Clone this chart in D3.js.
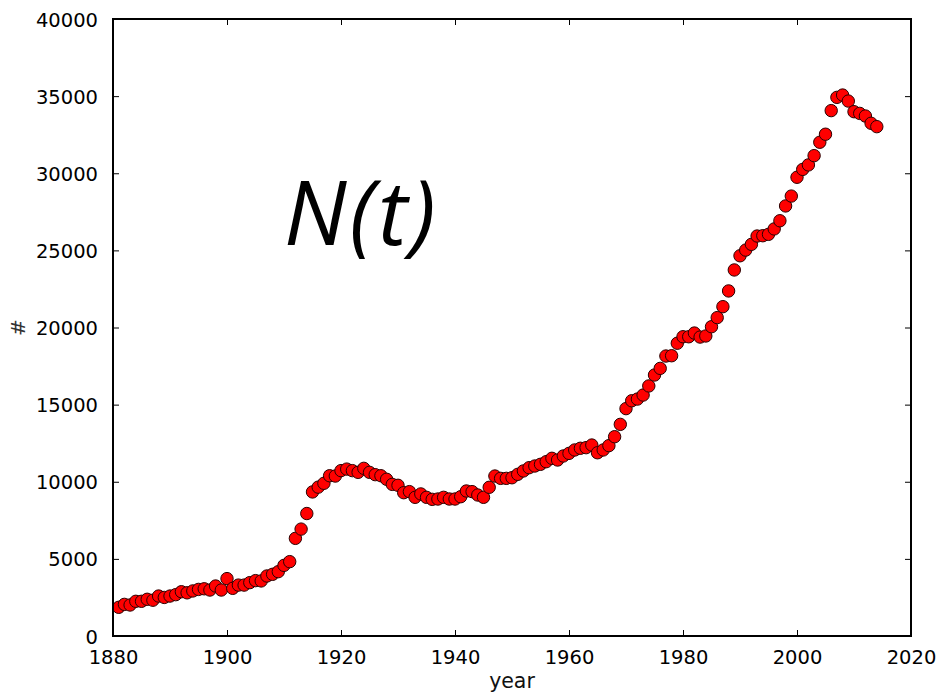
<!DOCTYPE html>
<html>
<head>
<meta charset="utf-8">
<script src="https://cdn.jsdelivr.net/npm/d3@7"></script>
<style>
  html, body { margin: 0; padding: 0; background: #fff; }
  svg { display: block; }
</style>
</head>
<body>
<svg id="chart" width="940" height="694"></svg>
<script>
// Yearly counts, 1881–2014
const startYear = 1881;
const counts = [
  1860, 2050, 2010, 2250, 2250, 2380, 2320, 2590, 2500, 2590,
  2680, 2870, 2800, 2920, 3020, 3060, 2980, 3240, 2980, 3720,
  3090, 3300, 3300, 3460, 3590, 3570, 3890, 4000, 4170, 4580,
  4820, 6330, 6930, 7940, 9340, 9650, 9900, 10390, 10370, 10720,
  10820, 10720, 10610, 10870, 10610, 10460, 10390, 10160, 9830, 9770,
  9290, 9360, 8990, 9210, 8990, 8860, 8880, 8990, 8880, 8880,
  9030, 9400, 9360, 9140, 8990, 9640, 10370, 10220, 10220, 10260,
  10480, 10700, 10910, 11020, 11130, 11300, 11520, 11410, 11670, 11840,
  12060, 12170, 12210, 12380, 11880, 12060, 12340, 12920, 13720, 14740,
  15250, 15360, 15620, 16210, 16920, 17350, 18150, 18170, 18980, 19400,
  19400, 19640, 19380, 19450, 20050, 20640, 21350, 22370, 23730, 24650,
  25020, 25390, 25930, 25950, 26040, 26390, 26920, 27880, 28520, 29740,
  30250, 30540, 31140, 32010, 32530, 34060, 34920, 35070, 34680, 33990,
  33880, 33710, 33240, 33020
];
const years = counts.map((_, i) => startYear + i);

const xTicks = [1880, 1900, 1920, 1940, 1960, 1980, 2000, 2020];
const yTicks = [0, 5000, 10000, 15000, 20000, 25000, 30000, 35000, 40000];

const W = 940, H = 694;
const margin = { left: 113, right: 29, top: 19, bottom: 58 };
const x = d3.scaleLinear().domain([1880, 2020]).range([margin.left, W - margin.right]);
const y = d3.scaleLinear().domain([0, 40000]).range([H - margin.bottom, margin.top]);

const svg = d3.select("#chart");
const font = "'DejaVu Sans', sans-serif";
const tickLen = 6;

// points
svg.append("g")
  .selectAll("circle")
  .data(years)
  .join("circle")
  .attr("cx", d => x(d))
  .attr("cy", (d, i) => y(counts[i]))
  .attr("r", 6.2)
  .attr("fill", "#ff0000")
  .attr("stroke", "#2a0000")
  .attr("stroke-width", 1);

// axes: bottom and left with labels, inward ticks
const xAxis = svg.append("g")
  .attr("transform", `translate(0,${y(0)})`)
  .call(d3.axisBottom(x).tickValues(xTicks).tickFormat(d3.format("d"))
    .tickSizeInner(-tickLen).tickSizeOuter(0).tickPadding(14));
const yAxis = svg.append("g")
  .attr("transform", `translate(${x(1880)},0)`)
  .call(d3.axisLeft(y).tickValues(yTicks).tickFormat(d3.format("d"))
    .tickSizeInner(-tickLen).tickSizeOuter(0).tickPadding(15));
// mirrored ticks on top and right
const xTop = svg.append("g")
  .attr("transform", `translate(0,${y(40000)})`)
  .call(d3.axisTop(x).tickValues(xTicks).tickFormat("")
    .tickSizeInner(-tickLen).tickSizeOuter(0));
const yRight = svg.append("g")
  .attr("transform", `translate(${x(2020)},0)`)
  .call(d3.axisRight(y).tickValues(yTicks).tickFormat("")
    .tickSizeInner(-tickLen).tickSizeOuter(0));

[xAxis, yAxis, xTop, yRight].forEach(g => {
  g.select(".domain").remove();
  g.selectAll(".tick line").attr("stroke", "#000").attr("stroke-width", 1);
  g.selectAll(".tick text")
    .attr("font-family", font)
    .attr("font-size", 19.5)
    .attr("fill", "#000");
});
yAxis.selectAll(".tick text").attr("dy", "0.36em");

// frame
svg.append("rect")
  .attr("x", x(1880))
  .attr("y", y(40000))
  .attr("width", x(2020) - x(1880))
  .attr("height", y(0) - y(40000))
  .attr("fill", "none")
  .attr("stroke", "#000")
  .attr("stroke-width", 2);

// axis titles
svg.append("text")
  .attr("x", (x(1880) + x(2020)) / 2)
  .attr("y", 688)
  .attr("text-anchor", "middle")
  .attr("font-family", font)
  .attr("font-size", 20.5)
  .attr("fill", "#111")
  .text("year");

svg.append("text")
  .attr("transform", `translate(25,${(y(0) + y(40000)) / 2}) rotate(-90)`)
  .attr("text-anchor", "middle")
  .attr("font-family", font)
  .attr("font-size", 20)
  .attr("fill", "#333")
  .text("#");

// big annotation
svg.append("text")
  .attr("x", 284)
  .attr("y", 245)
  .attr("font-family", "'Open Sans', 'Noto Sans', sans-serif")
  .attr("font-style", "italic")
  .attr("font-size", 89)
  .attr("letter-spacing", 3)
  .attr("fill", "#000")
  .text("N(t)");
</script>
</body>
</html>
